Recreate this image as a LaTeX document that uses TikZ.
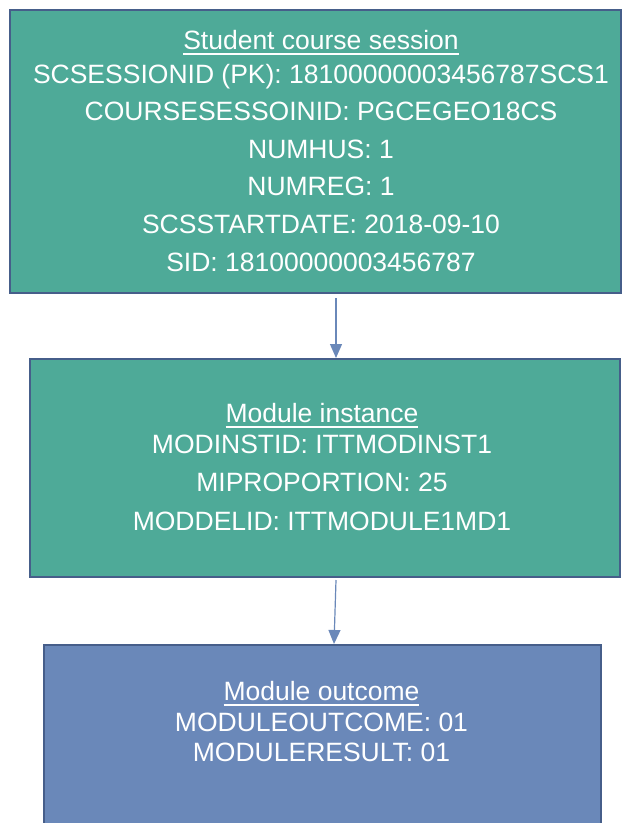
\documentclass[tikz,border=0pt]{standalone}
\usepackage{fontspec}
\setmainfont{Liberation Sans}
\usetikzlibrary{arrows.meta}

\definecolor{sessgreen}{RGB}{78,170,152}
\definecolor{outblue}{RGB}{106,136,185}
\definecolor{edgeblue}{RGB}{70,94,138}

% underlined record title
\newcommand{\recordtitle}[1]{\setbox0\hbox{#1}\rlap{\usebox0}\rule[-5.5pt]{\wd0}{2.2pt}}

\tikzset{
  box/.style={draw=edgeblue, line width=2pt, rectangle, inner sep=0pt},
  boxtext/.style={text=white, align=center, inner sep=0pt, font=\fontsize{26.5}{30.5}\selectfont},
  link/.style={draw=outblue, line width=1.2pt, -{Triangle[length=14pt,width=12pt]}}
}

\begin{document}
\begin{tikzpicture}[x=1pt,y=-1pt]
            \useasboundingbox (0,0) rectangle (623,823);
            \clip (0,0) rectangle (623,823);

            % the three record boxes
            \node[box, fill=sessgreen, minimum width=611pt, minimum height=283pt] (session) at (315.5,151.5) {};
            \node[box, fill=sessgreen, minimum width=590pt, minimum height=218pt] (instance) at (325,468) {};
            \node[box, fill=outblue, minimum width=557pt, minimum height=200pt] (outcome) at (322.5,745) {};

            \node[boxtext] (sessiontext) at (321,151) {\recordtitle{Student course session}\\[3.5pt]
                SCSESSIONID (PK): 18100000003456787SCS1\\[7pt]
                COURSESESSOINID: PGCEGEO18CS\\[7pt]
                NUMHUS: 1\\[7pt]
                NUMREG: 1\\[7.5pt]
                SCSSTARTDATE: 2018-09-10\\[7.5pt]
                SID: 18100000003456787};
            \node[boxtext] (instancetext) at (322,467) {\recordtitle{Module instance}\\[0.5pt]
                MODINSTID: ITTMODINST1\\[8pt]
                MIPROPORTION: 25\\[8pt]
                MODDELID: ITTMODULE1MD1};
            \node[boxtext] (outcometext) at (321.5,722) {\recordtitle{Module outcome}\\
                MODULEOUTCOME: 01\\
                MODULERESULT: 01};

            \draw[link] ([xshift=20.5pt,yshift=-4pt]session.south) -- ([xshift=11pt]instance.north);
            \draw[link] ([xshift=11pt,yshift=-2pt]instance.south) -- ([xshift=11.5pt]outcome.north);
\end{tikzpicture}
\end{document}
